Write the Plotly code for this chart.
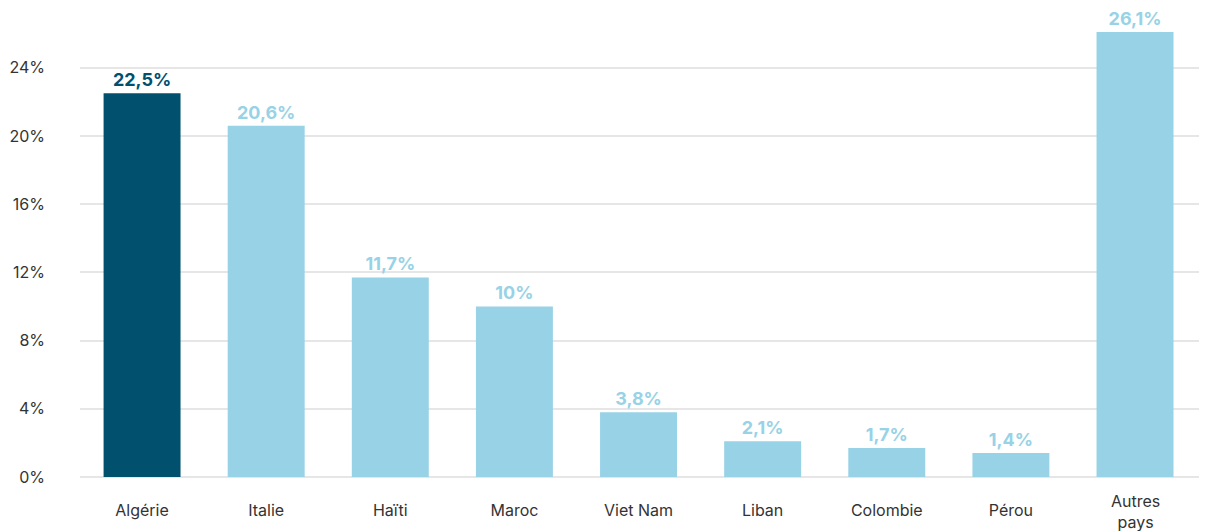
import plotly.graph_objects as go

categories = ["Algérie", "Italie", "Haïti", "Maroc", "Viet Nam", "Liban", "Colombie", "Pérou", "Autres<br>pays"]
values = [22.5, 20.6, 11.7, 10.0, 3.8, 2.1, 1.7, 1.4, 26.1]
labels = ["22,5%", "20,6%", "11,7%", "10%", "3,8%", "2,1%", "1,7%", "1,4%", "26,1%"]
tick_vals = [0, 4, 8, 12, 16, 20, 24]
tick_text = ["0%", "4%", "8%", "12%", "16%", "20%", "24%"]

dark = "#00506E"
light = "#98D2E6"
text_color = "#333333"
colors = [dark] + [light] * (len(categories) - 1)

# the page body has an 8px margin, so the figure is sized to fit the window
W, H = 1199, 523

fig = go.Figure(go.Bar(
    x=categories, y=values, marker_color=colors, marker_line_width=0,
    text=labels, textposition="outside", cliponaxis=False,
    textfont=dict(family="Inter", size=18, color=colors, weight="bold"),
))

# multi-line category label is centred vertically, drawn as an annotation
x_ticktext = [c if "<br>" not in c else "" for c in categories]
for c in categories:
    if "<br>" in c:
        fig.add_annotation(x=c, xref="x", y=0, yref="paper", yanchor="middle",
                           yshift=-34, text=c, showarrow=False,
                           font=dict(family="Inter", size=16, color=text_color))

fig.update_layout(
    width=W, height=H,
    margin=dict(l=72, r=0, t=0, b=54, autoexpand=False),
    plot_bgcolor="white", paper_bgcolor="white",
    bargap=0.38, showlegend=False,
    font=dict(family="Inter", color=text_color),
)
fig.update_yaxes(range=[0, 27.5], tickvals=tick_vals, ticktext=tick_text,
                 showgrid=True, gridcolor="#E6E6E6", gridwidth=2,
                 zeroline=True, zerolinecolor="#E6E6E6", zerolinewidth=2,
                 tickfont=dict(size=16, color=text_color), ticklabelstandoff=34,
                 automargin=False)
fig.update_xaxes(range=[-0.5, 8.58], tickmode="array", tickvals=categories,
                 ticktext=x_ticktext,
                 tickfont=dict(size=16, color=text_color), ticklabelstandoff=22,
                 showline=False, automargin=False)
fig.write_html("out.html")
